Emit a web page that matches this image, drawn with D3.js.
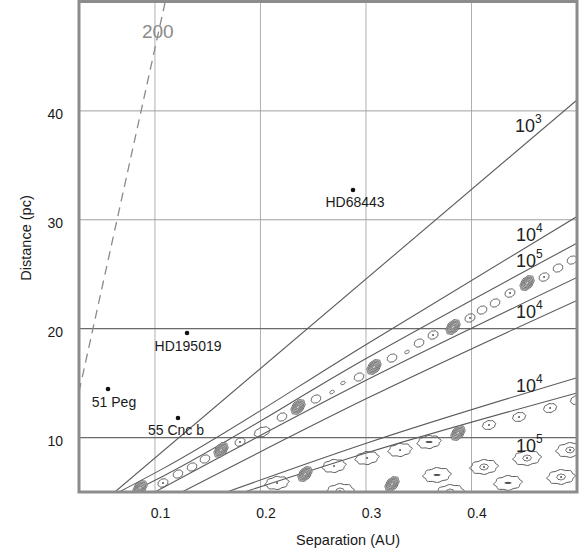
<!DOCTYPE html>
<html>
<head>
<meta charset="utf-8">
<script src="https://cdn.jsdelivr.net/npm/d3@7"></script>
<style>
  body { margin: 0; background: #fff; }
  text { font-family: "Liberation Sans", Arial, sans-serif; }
</style>
</head>
<body>
<script>
const width = 582;
const height = 551;

// ticks
const xTicks = [0.1, 0.2, 0.3, 0.4];
const yTicks = [10, 20, 30, 40];

// contour lines, [separation AU, distance pc]
const line1e3  = [[0.062, 5], [0.5, 41.0]];
const line1e4a = [[0.066, 5], [0.1067, 7.1], [0.301, 18.6], [0.5, 30.3]];
const line1e5a = [[0.078, 5], [0.1067, 6.4], [0.301, 17.3], [0.5, 27.86]];
const line1e5b = [[0.100, 5], [0.301, 15.3], [0.5, 24.7]];
const line1e4b = [[0.1256, 5], [0.301, 13.6], [0.5, 22.6]];
const line1e4c = [[0.168, 5], [0.301, 9.5], [0.5, 15.5]];
const line1e5c = [[0.185, 5], [0.301, 8.6], [0.5, 14.1]];
const line200  = [[0.028, 14.2], [0.1115, 50.8]];

// closed contour islands: [sep, dist, kind]
const band1 = [
  [0.0858, 5.37, 'b'], [0.1076, 5.83, 'd'], [0.1218, 6.65, 's'], [0.1351, 7.30, 's'],
  [0.1474, 8.03, 's'], [0.1626, 8.86, 'b'], [0.1806, 9.59, 'd'], [0.2015, 10.51, 'w'],
  [0.2204, 11.89, 's'], [0.2356, 12.81, 'b'], [0.2526, 13.54, 's'], [0.2678, 14.18, 't'],
  [0.2782, 15.01, 't'], [0.2934, 15.56, 's'], [0.3076, 16.48, 'b'], [0.3247, 17.30, 's'],
  [0.3389, 17.86, 't'], [0.3503, 18.68, 's'], [0.3636, 19.42, 'd'], [0.3825, 20.15, 'b'],
  [0.3986, 20.98, 'd'], [0.4100, 21.71, 's'], [0.4223, 22.36, 's'], [0.4365, 23.27, 'd'],
  [0.4527, 24.19, 'b'], [0.4688, 24.74, 'd'], [0.4820, 25.57, 's'], [0.4953, 26.30, 's']
];
const band2 = [
  [0.2157, 5.83, 'c'], [0.2422, 6.65, 'b'], [0.2697, 7.39, 'c'], [0.3010, 8.12, 'c'],
  [0.3323, 8.86, 'c'], [0.3598, 9.59, 'k'], [0.3872, 10.42, 'b'], [0.4166, 11.15, 'm'],
  [0.4451, 11.89, 'm'], [0.4745, 12.71, 'm'], [0.5, 13.45, 'm']
];
const band3 = [
  [0.2754, 5.09, 'C'], [0.3247, 5.73, 'b'], [0.3673, 6.56, 'K'], [0.4119, 7.30, 'C'],
  [0.4527, 8.12, 'C'], [0.4934, 8.86, 'C']
];
const band4 = [[0.3797, 5.0, 'C'], [0.4346, 5.83, 'K'], [0.4849, 6.38, 'C']];

// contour labels: [base, exponent, sep, dist]
const levelLabels = [
  ['10', '3', 0.4413, 38.06], ['10', '4', 0.4422, 28.05], ['10', '5', 0.4422, 25.66],
  ['10', '4', 0.4422, 20.98], ['10', '4', 0.4422, 14.18], ['10', '5', 0.4422, 8.67]
];

// planets
const planetNames = ['HD68443', 'HD195019', '51 Peg', '55 Cnc b'];
const planetSep = [0.2877, 0.1304, 0.0555, 0.1218];
const planetDist = [32.73, 19.6, 14.46, 11.8];

const x = d3.scaleLinear().domain([0.028, 0.5]).range([79, 577]);
const y = d3.scaleLinear().domain([5, 50]).range([492, 2]);

const svg = d3.select('body').append('svg')
  .attr('width', width)
  .attr('height', height);

svg.append('defs').append('clipPath').attr('id', 'plot')
  .append('rect').attr('x', 79).attr('y', 2).attr('width', 498).attr('height', 490);

// grid
svg.append('g').selectAll('line').data(xTicks).enter().append('line')
  .attr('x1', d => x(d)).attr('x2', d => x(d))
  .attr('y1', 2).attr('y2', 492)
  .attr('stroke', '#b0b0b0').attr('stroke-width', 1);
svg.append('g').selectAll('line').data(yTicks).enter().append('line')
  .attr('x1', 79).attr('x2', 577)
  .attr('y1', d => y(d)).attr('y2', d => y(d))
  .attr('stroke', d => d <= 20 ? '#6a6a6a' : '#a0a0a0')
  .attr('stroke-width', d => d <= 20 ? 1.3 : 1);

const g = svg.append('g').attr('clip-path', 'url(#plot)');

const line = d3.line().x(d => x(d[0])).y(d => y(d[1])).curve(d3.curveMonotoneX);

[line1e3, line1e4a, line1e5a, line1e5b, line1e4b, line1e4c, line1e5c].forEach(l => {
  g.append('path').attr('d', line(l))
    .attr('fill', 'none').attr('stroke', '#5a5a5a').attr('stroke-width', 1.1);
});

g.append('path').attr('d', line(line200))
  .attr('fill', 'none').attr('stroke', '#8a8a8a')
  .attr('stroke-width', 1.3).attr('stroke-dasharray', '9,6');

// island shapes
const ring = d3.line().curve(d3.curveCardinalClosed);
function blob(rx, ry, rot, bump) {
  const pts = [];
  const a = rot * Math.PI / 180;
  for (let i = 0; i < 32; i++) {
    const t = i / 32 * 2 * Math.PI;
    const k = 1 + bump * Math.cos(8 * t);
    const px = rx * k * Math.cos(t), py = ry * k * Math.sin(t);
    pts.push([px * Math.cos(a) - py * Math.sin(a), px * Math.sin(a) + py * Math.cos(a)]);
  }
  return ring(pts);
}

const shapes = {
  b: { rings: [[8.5, 5.5], [6.8, 4.4], [5.2, 3.4], [3.6, 2.4], [2, 1.3]], rot: -50, bump: 0.04 },
  s: { rings: [[5, 3.8]], rot: -25, bump: 0.04 },
  d: { rings: [[5.2, 3.9]], rot: -25, bump: 0.04, dot: true },
  t: { rings: [[2.4, 1.5]], rot: -25, bump: 0 },
  w: { rings: [[8, 4.5]], rot: -20, bump: 0.06 },
  m: { rings: [[6.5, 4.3]], rot: -15, bump: 0.05, dot: true },
  c: { rings: [[11.5, 6.2]], rot: -8, bump: 0.07, dot: true },
  k: { rings: [[11.5, 6.2]], rot: -8, bump: 0.07, dash: true },
  C: { rings: [[13.5, 7], [4.2, 2.8]], rot: -5, bump: 0.07, dot: true },
  K: { rings: [[13.5, 7]], rot: -5, bump: 0.07, dash: true }
};

[band1, band2, band3, band4].forEach(band => {
  band.forEach(p => {
    const s = shapes[p[2]];
    const cg = g.append('g').attr('transform', `translate(${x(p[0])},${y(p[1])})`);
    s.rings.forEach((r, i) => {
      cg.append('path').attr('d', blob(r[0], r[1], s.rot, s.bump))
        .attr('fill', p[2] === 'b' && i === 0 ? '#cfcfcf' : 'none')
        .attr('stroke', p[2] === 'b' ? '#5e5e5e' : '#5a5a5a')
        .attr('stroke-width', p[2] === 'b' ? 0.9 : 1);
    });
    if (s.dot) cg.append('circle').attr('r', 1).attr('fill', '#555');
    if (s.dash) cg.append('path').attr('d', blob(3.5, 1.1, 0, 0)).attr('fill', '#555');
  });
});

// border
svg.append('rect').attr('x', 79).attr('y', 1.5).attr('width', 498).attr('height', 490.5)
  .attr('fill', 'none').attr('stroke', '#8c8c8c').attr('stroke-width', 3);

// planets
svg.append('g').selectAll('circle').data(planetNames).enter().append('circle')
  .attr('cx', (d, i) => x(planetSep[i])).attr('cy', (d, i) => y(planetDist[i]))
  .attr('r', 2.3).attr('fill', '#111');
const planetDx = [2, 1, 6, -2];
const planetDy = [17, 18, 18, 17];
svg.append('g').selectAll('text').data(planetNames).enter().append('text')
  .attr('x', (d, i) => x(planetSep[i]) + planetDx[i])
  .attr('y', (d, i) => y(planetDist[i]) + planetDy[i])
  .attr('text-anchor', 'middle')
  .attr('font-size', 14).attr('fill', '#1a1a1a')
  .text(d => d);

// contour labels
levelLabels.forEach(l => {
  const t = svg.append('text')
    .attr('x', x(l[2])).attr('y', y(l[3]))
    .attr('font-size', 18).attr('fill', '#222');
  t.append('tspan').text(l[0]);
  t.append('tspan').attr('font-size', 12).attr('dy', -9).text(l[1]);
});
svg.append('text')
  .attr('x', x(0.0877)).attr('y', y(46.7))
  .attr('font-size', 19).attr('fill', '#8a8a8a')
  .text('200');

// axes
const xAxis = svg.append('g').attr('transform', 'translate(5,492)')
  .call(d3.axisBottom(x).tickValues(xTicks).tickSize(0).tickPadding(16).tickFormat(d3.format('.1f')));
const yAxis = svg.append('g').attr('transform', 'translate(79,3)')
  .call(d3.axisLeft(y).tickValues(yTicks).tickSize(0).tickPadding(16));
[xAxis, yAxis].forEach(a => {
  a.select('.domain').remove();
  a.selectAll('text').attr('font-size', 14).attr('fill', '#1a1a1a')
    .attr('font-family', '"Liberation Sans", Arial, sans-serif');
});

svg.append('text')
  .attr('x', 348).attr('y', 545)
  .attr('text-anchor', 'middle').attr('font-size', 14.5).attr('fill', '#1a1a1a')
  .text('Separation (AU)');
svg.append('text')
  .attr('transform', 'translate(31,238) rotate(-90)')
  .attr('text-anchor', 'middle').attr('font-size', 14.5).attr('fill', '#1a1a1a')
  .text('Distance (pc)');
</script>
</body>
</html>
